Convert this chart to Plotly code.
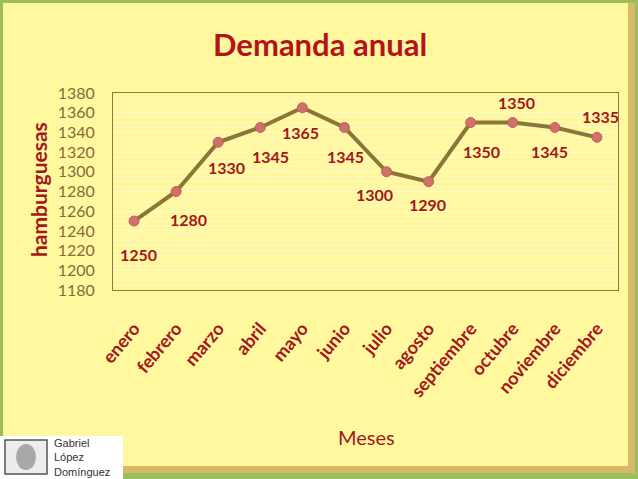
import plotly.graph_objects as go

meses = ["enero", "febrero", "marzo", "abril", "mayo", "junio", "julio",
         "agosto", "septiembre", "octubre", "noviembre", "diciembre"]
demanda = [1250, 1280, 1330, 1345, 1365, 1345, 1300, 1290, 1350, 1350, 1345, 1335]
y_ticks = list(range(1180, 1381, 20))

# label offsets (pixels) relative to each point: styling, not data
label_dx = [4, 12, 8, 10, -2, 1, -12, -1, 11, 4, -5, 4]
label_dy = [-33, -28, -25, -29, -25, -29, -23, -23, -29, 20, -24, 21]

W, H = 638, 479
L, R, T, B = 113, 20, 93, 189
pw, ph = W - L - R, H - T - B

def px(x):
    return (x - L) / pw

def py(y):
    return (H - B - y) / ph

RED = "#A3161B"
TICK = "#8A6A3A"
FONT = "Lato, Open Sans, sans-serif"

fig = go.Figure()
fig.add_trace(go.Scatter(
    x=meses, y=demanda, mode="lines+markers",
    line=dict(color="#8C7537", width=4),
    marker=dict(color="#D0706A", size=10, line=dict(color="#C0605A", width=1)),
    cliponaxis=False, hoverinfo="skip", showlegend=False,
))

shapes = [
    dict(type="rect", xref="paper", yref="paper", x0=px(3), x1=px(635), y0=py(473), y1=py(3),
         fillcolor="#D9B86A", line=dict(width=0), layer="below"),
    dict(type="rect", xref="paper", yref="paper", x0=px(3), x1=px(628), y0=py(466), y1=py(3),
         fillcolor="#FFF89E", line=dict(width=0), layer="below"),
    dict(type="rect", xref="paper", yref="paper", x0=px(0), x1=px(123), y0=py(479), y1=py(436),
         fillcolor="white", line=dict(width=0), layer="below"),
    dict(type="rect", xref="paper", yref="paper", x0=px(5), x1=px(47), y0=py(474), y1=py(440),
         fillcolor="#EDEDED", line=dict(color="#555555", width=1.5), layer="below"),
    dict(type="circle", xref="paper", yref="paper", x0=px(16), x1=px(36), y0=py(470), y1=py(444),
         fillcolor="#A8A8A8", line=dict(width=0), layer="below"),
]

annotations = [
    dict(text="<b>Demanda anual</b>", xref="paper", yref="paper", x=px(320), y=py(44),
         showarrow=False, font=dict(family=FONT, size=31, color="#B5121B"),
         xanchor="center", yanchor="middle"),
    dict(text="Gabriel<br>López<br>Domínguez", xref="paper", yref="paper", x=px(52), y=py(457),
         showarrow=False, align="left", xanchor="left", yanchor="middle",
         font=dict(family="Liberation Sans, Arial, sans-serif", size=11, color="#333333")),
    dict(text="Meses", xref="paper", yref="paper", x=px(366), y=py(437),
         showarrow=False, xanchor="center", yanchor="middle",
         font=dict(family=FONT, size=20, color=RED)),
    dict(text="<b>hamburguesas</b>", xref="paper", yref="paper", x=px(38), y=py(190),
         showarrow=False, xanchor="center", yanchor="middle", textangle=-90,
         font=dict(family=FONT, size=21, color=RED)),
]
for m, v, dx, dy in zip(meses, demanda, label_dx, label_dy):
    annotations.append(dict(
        text="<b>%d</b>" % v, x=m, y=v, xref="x", yref="y", showarrow=False,
        xshift=dx, yshift=dy, xanchor="center", yanchor="middle",
        font=dict(family=FONT, size=16, color=RED)))

fig.update_layout(
    width=W, height=H, margin=dict(l=L, r=R, t=T, b=B, autoexpand=False),
    paper_bgcolor="#9DBE5E", plot_bgcolor="#FFF7A0",
    shapes=shapes, annotations=annotations,
    xaxis=dict(
        type="category", range=[-0.5, 11.5], tickangle=-50,
        tickfont=dict(family=FONT, size=18, color=RED, weight="bold"),
        ticklabelstandoff=20,
        showgrid=False, showline=True, linecolor="#8C7A3C", linewidth=1, mirror=True,
        ticks="",
    ),
    yaxis=dict(
        range=[1180, 1380], tickvals=y_ticks,
        tickfont=dict(family=FONT, size=16, color=TICK),
        ticklabelstandoff=14,
        showgrid=True, gridcolor="#FFFBD0", gridwidth=1,
        minor=dict(dtick=5, showgrid=True, gridcolor="#FFF9C0", gridwidth=1),
        showline=True, linecolor="#8C7A3C", linewidth=1, mirror=True,
        zeroline=False, ticks="",
    ),
)

fig.write_html("out.html")
